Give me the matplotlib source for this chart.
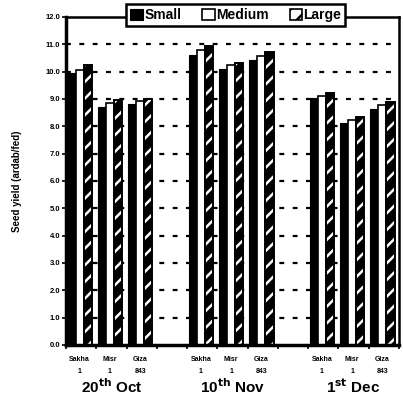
import matplotlib
matplotlib.use('Agg')
import matplotlib.pyplot as plt
import matplotlib.patches as mpatches
import numpy as np

plt.rcParams['font.family'] = ['Liberation Sans', 'DejaVu Sans']
plt.rcParams['mathtext.default'] = 'bf'
plt.rcParams['hatch.linewidth'] = 1.8

# data: seed yield (ardab/fed) by sowing date, cultivar and seed size
dates = ['20$^{th}$ Oct', '10$^{th}$ Nov', '1$^{st}$ Dec']
cultivars = ['Sakha\n1', 'Misr\n1', 'Giza\n843']
sizes = ['Small', 'Medium', 'Large']

small = [9.95, 8.70, 8.80, 10.60, 10.10, 10.42, 9.02, 8.10, 8.63]
medium = [10.05, 8.85, 8.92, 10.80, 10.22, 10.55, 9.10, 8.22, 8.76]
large = [10.22, 8.95, 9.00, 10.95, 10.32, 10.70, 9.20, 8.34, 8.88]

yticks = np.arange(0, 13, 1)

# slot positions: 3 cultivars per date, one empty slot between dates
slots = np.array([0, 1, 2, 4, 5, 6, 8, 9, 10]) + 0.45
w = 0.27

fig = plt.figure(figsize=(4.03, 4.01), dpi=100)
ax = fig.add_axes([0.164, 0.140, 0.826, 0.818])

for yv in yticks[1:-1]:
    ax.axhline(yv, color='black', lw=1.6, dashes=(2.2, 3.8), zorder=0)

b1 = ax.bar(slots - w, small, w, color='black', edgecolor='black', lw=0.8, zorder=2)
b2 = ax.bar(slots, medium, w, color='white', edgecolor='black', lw=1.2, zorder=2)
ax.bar(slots + w, large, w, color='black', edgecolor='white', hatch='//', lw=0, zorder=2)
ax.bar(slots + w, large, w, fill=False, edgecolor='black', lw=1.4, zorder=3)

ax.set_xlim(0, 11)
ax.set_ylim(0, 12)
ax.set_yticks(yticks)
ax.set_yticklabels(['%.1f' % v for v in yticks], fontsize=5.5, fontweight='bold')
ax.set_xticks(np.arange(0, 12, 1))
ax.set_xticklabels([])
ax.tick_params(axis='both', direction='out', length=3, width=1.2, pad=1)

for s in ['left', 'bottom']:
    ax.spines[s].set_linewidth(2.5)
for s in ['top', 'right']:
    ax.spines[s].set_linewidth(1.8)

for x, c in zip(slots, cultivars * 3):
    ax.text(x, -0.4, c, ha='center', va='top', fontsize=5, fontweight='bold',
            linespacing=2.1)

for x, d in zip([1.5, 5.5, 9.5], dates):
    ax.text(x, -1.2, d, ha='center', va='top', fontsize=11, fontweight='bold')

ax.set_ylabel('Seed yield (ardab/fed)', fontsize=7, fontweight='bold', labelpad=17)

h3 = mpatches.Patch(facecolor='white', edgecolor='black', hatch='//', lw=1.2)
leg = ax.legend([b1, b2, h3], sizes, loc='center', bbox_to_anchor=(0.51, 1.005),
                ncol=3, frameon=True, fancybox=False,
                prop={'weight': 'bold', 'size': 10},
                handlelength=0.9, handleheight=0.9, handletextpad=0.1,
                columnspacing=1.5, borderpad=0.3, borderaxespad=0)
leg.get_frame().set_edgecolor('black')
leg.get_frame().set_linewidth(1.8)
leg.get_frame().set_alpha(1)
leg.set_zorder(5)

fig.savefig('out.png', dpi=100)
